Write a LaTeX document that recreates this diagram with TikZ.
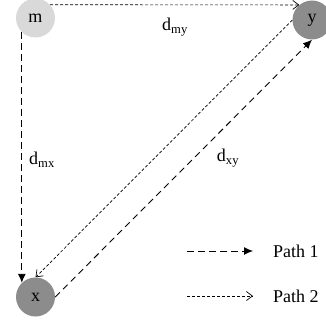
\documentclass[tikz,border=0pt]{standalone}
\usepackage{fontspec}
\setmainfont{Liberation Serif}
\usetikzlibrary{arrows.meta}
\definecolor{lightnode}{HTML}{D9D9D9}
\definecolor{darknode}{HTML}{8C8C8C}
\tikzset{
  nd/.style={circle, minimum size=39pt, inner sep=0pt, font=\fontsize{18}{18}\selectfont},
  pathone/.style={line width=0.9pt, dash pattern=on 6.5pt off 4.5pt, -{Latex[length=9pt,width=8pt]}},
  pathtwo/.style={line width=0.7pt, dash pattern=on 3pt off 2pt, -{Straight Barb[length=6pt,width=9pt]}},
  lbl/.style={font=\fontsize{18}{18}\selectfont, inner sep=0pt}
}
\begin{document}
\begin{tikzpicture}[x=1pt,y=-1pt]
\useasboundingbox (0,0) rectangle (325,326);
\node[nd, fill=lightnode] (m) at (35.5,18) {m};
\node[nd, fill=darknode] (y) at (312,20) {y};
\node[nd, fill=darknode] (x) at (35.5,297) {x};
% Path 1: m -> x -> y
\draw[pathone] (m.226) -- (x.134);
\draw[pathone] (x.east) -- (y.south);
% Path 2: m -> y -> x
\draw[pathtwo] (m.42) -- (y.130);
\draw[pathtwo] (y.west) -- (x.north);
% labels
\node[lbl] (lmy) at (175,27) {d\textsubscript{my}};
\node[lbl] (lmx) at (42,160) {d\textsubscript{mx}};
\node[lbl] (lxy) at (228,158) {d\textsubscript{xy}};
% legend
\coordinate (a1) at (187,251);
\coordinate (b1) at (253,251);
\coordinate (a2) at (187,296);
\coordinate (b2) at (253,296);
\draw[pathone] (a1) -- (b1);
\draw[pathtwo] (a2) -- (b2);
\node[lbl, anchor=west] (t1) at (273,251) {Path 1};
\node[lbl, anchor=west] (t2) at (273,296) {Path 2};
\end{tikzpicture}
\end{document}
